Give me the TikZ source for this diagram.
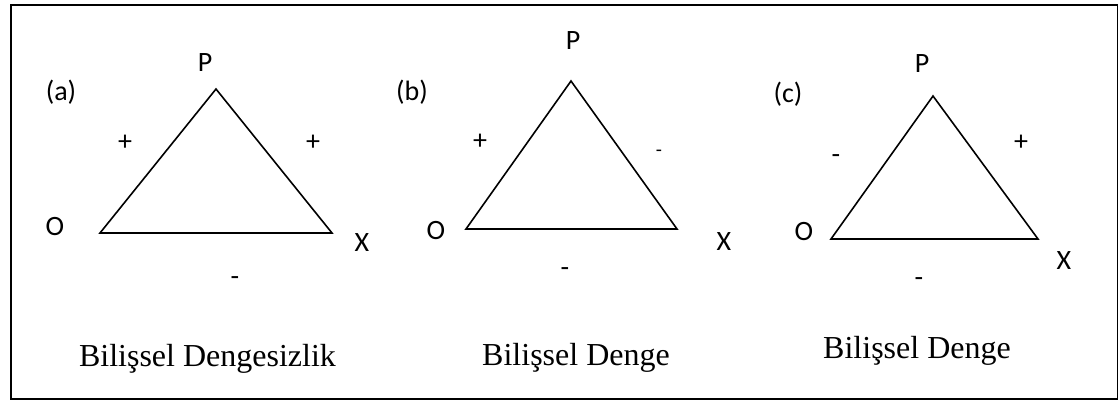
\documentclass[tikz,border=0pt]{standalone}
\usepackage{fontspec}
\setmainfont{Liberation Serif}
\newfontfamily\calfont{Carlito}
\begin{document}
\begin{tikzpicture}[x=1pt,y=-1pt,
  lbl/.style={font=\calfont\fontsize{28}{32}\selectfont, inner sep=0pt},
  captext/.style={font=\fontsize{32}{36}\selectfont, inner sep=0pt, anchor=base},
  tri/.style={draw=black, line width=1.6pt, line join=miter},
  framebox/.style={draw=black, line width=2pt}]
\useasboundingbox (0,0) rectangle (1118,400);
\node[framebox, minimum width=1107pt, minimum height=394pt, inner sep=0pt, anchor=north west] (box) at (9.5,3.5) {};
% (a)
\coordinate (Pa) at (216,89);
\coordinate (Oa) at (100,233);
\coordinate (Xa) at (332,233);
\draw[tri] (Oa) -- (Pa) -- (Xa) -- cycle;
\node[lbl] (pa) at (205,63) {P};
\node[lbl] (la) at (61,92) {(a)};
\node[lbl] (oa) at (55,227) {O};
\node[lbl] (xa) at (362,243) {X};
\node[lbl] (s1a) at (125,143) {+};
\node[lbl] (s2a) at (313,143) {+};
\node[lbl] (s3a) at (235,281) {-};
\node[captext] (ca) at (207.5,366.5) {Bilişsel Dengesizlik};
% (b)
\coordinate (Pb) at (571,81);
\coordinate (Ob) at (466,229);
\coordinate (Xb) at (677,229);
\draw[tri] (Ob) -- (Pb) -- (Xb) -- cycle;
\node[lbl] (pb) at (573,41) {P};
\node[lbl] (lb) at (412,92) {(b)};
\node[lbl] (ob) at (436,231) {O};
\node[lbl] (xb) at (724,242) {X};
\node[lbl] (s1b) at (480,142) {+};
\node[lbl, font=\calfont\fontsize{20}{22}\selectfont] (s2b) at (659,153) {-};
\node[lbl] (s3b) at (565,272) {-};
\node[captext] (cb) at (576,365) {Bilişsel Denge};
% (c)
\coordinate (Pc) at (933,96);
\coordinate (Oc) at (831,239);
\coordinate (Xc) at (1038,239);
\draw[tri] (Oc) -- (Pc) -- (Xc) -- cycle;
\node[lbl] (pc) at (922,64) {P};
\node[lbl] (lc) at (788,94) {(c)};
\node[lbl] (oc) at (804,232) {O};
\node[lbl] (xc) at (1064,261) {X};
\node[lbl] (s1c) at (836,159) {-};
\node[lbl] (s2c) at (1021,143) {+};
\node[lbl] (s3c) at (919,282) {-};
\node[captext] (cc) at (917,358) {Bilişsel Denge};
\end{tikzpicture}
\end{document}
